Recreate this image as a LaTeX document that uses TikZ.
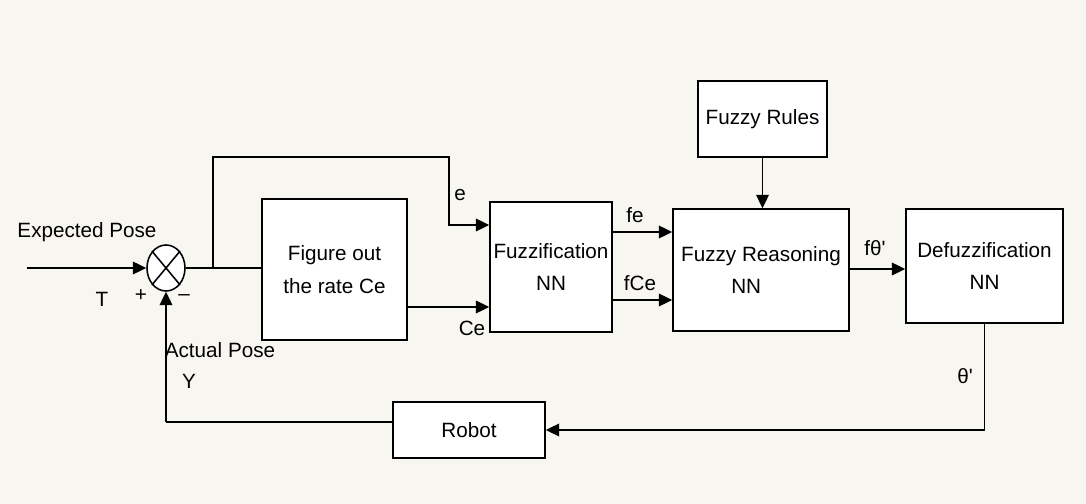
\documentclass[tikz,border=0pt]{standalone}
\usepackage{fontspec}
\setmainfont{Liberation Sans}
\usetikzlibrary{arrows.meta,shapes.geometric}
\definecolor{paper}{RGB}{248,246,240}

\begin{document}
\begin{tikzpicture}[x=0.025cm, y=-0.025cm,
    box/.style={rectangle, draw=black, fill=white, line width=1.1pt, align=center, inner sep=0pt, font=\fontsize{14.7}{23}\selectfont},
    lbl/.style={inner sep=0pt, font=\fontsize{14.7}{18}\selectfont},
    flow/.style={-{Triangle[length=9.5pt,width=9pt]}, line width=1.1pt},
    wire/.style={line width=1.1pt}]

\fill[paper] (0,0) rectangle (1086,504);
\useasboundingbox (0,0) rectangle (1086,504);

% summing junction
\node[ellipse, draw, fill=white, line width=1.1pt, minimum width=0.95cm, minimum height=1.15cm, inner sep=0pt] (sum) at (166,268) {};
\draw[wire] (sum.north west) -- (sum.south east);
\draw[wire] (sum.north east) -- (sum.south west);

% blocks
\node[box, minimum width=3.625cm, minimum height=3.525cm] (fig) at (334.5,269.5) {Figure out\\the rate Ce};
\node[box, minimum width=3.05cm, minimum height=3.25cm] (fuzz) at (551,267) {Fuzzification\\NN};
\node[box, minimum width=4.4cm, minimum height=3.05cm] (reason) at (761,270) {Fuzzy Reasoning\\NN\hspace*{21pt}};
\node[box, minimum width=3.225cm, minimum height=1.9cm] (rules) at (762.5,119) {Fuzzy Rules};
\node[box, minimum width=3.925cm, minimum height=2.85cm] (defuzz) at (984.5,266) {Defuzzification\\NN};
\node[box, minimum width=3.8cm, minimum height=1.4cm] (robot) at (469,430) {Robot};

% helper points
\coordinate (in) at (27,268);
\coordinate (br) at (213,268);
\coordinate (top) at (449,157);
\coordinate (fbk) at (166,422);

% connectors
\draw[flow] (in) -- (sum.west);
\draw[wire] (sum.east) -- (sum.east -| fig.west);
\draw[flow] (br) |- (top) |- (fuzz.west |- 0,225);
\draw[flow] (fig.east |- 0,307) -- (fuzz.west |- 0,307);
\draw[flow] (fuzz.east |- 0,232) -- (reason.west |- 0,232);
\draw[flow] (fuzz.east |- 0,300) -- (reason.west |- 0,300);
\draw[flow] (rules.south) -- (rules.south |- reason.north);
\draw[flow] (reason.east |- 0,269) -- (defuzz.west |- 0,269);
\draw[flow] (defuzz.south) |- (robot.east);
\draw[wire] (robot.west |- fbk) -- (fbk);
\draw[flow] (fbk) -- (sum.south);

% labels
\node[lbl] (expected) at (87,232) {Expected Pose};
\node[lbl] (tlbl) at (102,299) {T};
\node[lbl] (plus) at (141,296) {+};
\node[lbl] (minus) at (184,298) {\textendash};
\node[lbl] (actual) at (220,350) {Actual Pose};
\node[lbl] (ylbl) at (189,381) {Y};
\node[lbl] (elbl) at (460,195) {e};
\node[lbl] (celbl) at (472,328) {Ce};
\node[lbl] (felbl) at (635,215) {fe};
\node[lbl] (fcelbl) at (640,283) {fCe};
\node[lbl] (fthlbl) at (875,248) {fθ\textquotesingle};
\node[lbl] (thlbl) at (965,376) {θ\textquotesingle};

\end{tikzpicture}
\end{document}
